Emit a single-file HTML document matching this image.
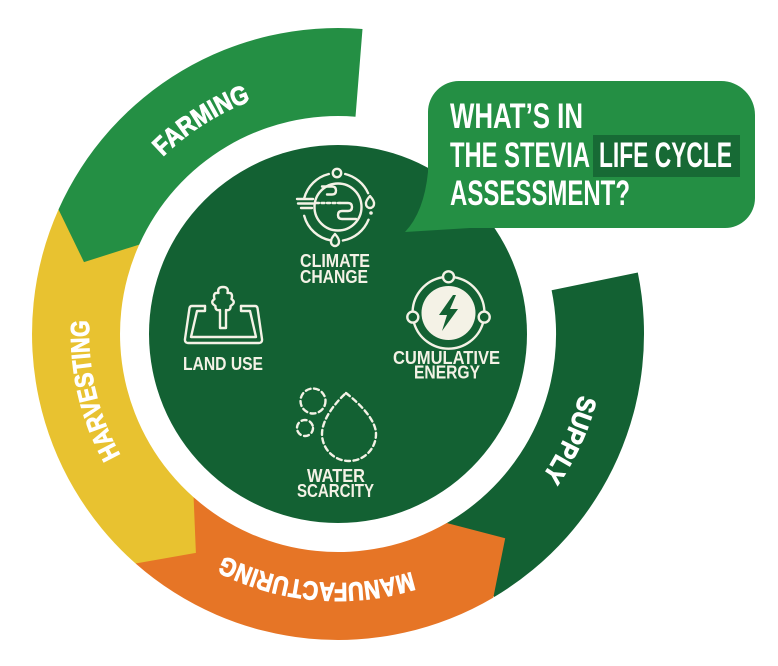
<!DOCTYPE html>
<html>
<head>
<meta charset="utf-8">
<style>
html,body{margin:0;padding:0;background:#ffffff;width:778px;height:666px;overflow:hidden}
svg{display:block}
.lbl{font-family:"Liberation Sans Narrow","Liberation Sans",sans-serif;font-weight:bold;fill:#f4f2e6}
.ring{font-family:"Liberation Sans Narrow","Liberation Sans",sans-serif;font-weight:bold;fill:#ffffff;font-size:26px;stroke:#ffffff;stroke-width:0.9}
.ttl{font-family:"Liberation Sans Narrow","Liberation Sans",sans-serif;font-weight:bold;fill:#ffffff;font-size:35px}
.ic{fill:none;stroke:#f4f2e6;stroke-width:2.4;stroke-linecap:round;stroke-linejoin:round}
</style>
</head>
<body>
<svg width="778" height="666" viewBox="0 0 778 666" xmlns="http://www.w3.org/2000/svg">
  <rect width="778" height="666" fill="#ffffff"/>
  <defs>
    <path id="pFarm" d="M116.9,219.4 A249 249 0 0 1 326.7,85.3"/>
    <path id="pHarv" d="M188.1,532.9 A249 249 0 0 1 116.1,221.0"/>
    <path id="pManu" d="M514.1,510.1 A249 249 0 0 1 134.0,476.8"/>
    <path id="pSupp" d="M577.9,267.5 A249 249 0 0 1 445.2,558.7"/>
  </defs>

  <!-- Ring segments -->
  <path d="M494.2,597.0 A306 306 0 0 0 637.8,272.5 L551.6,290.2 A218 218 0 0 1 446.0,523.5 Z" fill="#136133"/>
  <path d="M135.6,563.5 A306 306 0 0 0 493.3,597.6 L505.2,538.3 L446.7,523.0 A218 218 0 0 1 193.6,497.3 Z" fill="#e67526"/>
  <path d="M58.5,209.5 A306 306 0 0 0 135.6,563.5 L195.9,552.9 L193.6,497.3 A218 218 0 0 1 139.2,244.6 Z" fill="#e8c230"/>
  <path d="M362.5,29.0 A306 306 0 0 0 58.5,209.5 L84.0,262.1 L139.2,244.6 A218 218 0 0 1 355.5,116.7 Z" fill="#248f44"/>

  <!-- Ring labels -->
  <text class="ring"><textPath href="#pFarm" startOffset="50%" text-anchor="middle" textLength="105" lengthAdjust="spacingAndGlyphs">FARMING</textPath></text>
  <text class="ring"><textPath href="#pHarv" startOffset="50%" text-anchor="middle" textLength="140" lengthAdjust="spacingAndGlyphs">HARVESTING</textPath></text>
  <text class="ring"><textPath href="#pManu" startOffset="50%" text-anchor="middle" textLength="193" lengthAdjust="spacingAndGlyphs">MANUFACTURING</textPath></text>
  <text class="ring"><textPath href="#pSupp" startOffset="50%" text-anchor="middle" textLength="90" lengthAdjust="spacingAndGlyphs">SUPPLY</textPath></text>

  <!-- Inner disk -->
  <circle cx="338" cy="334" r="189" fill="#136133"/>

  <!-- Speech bubble -->
  <path d="M428,112 A31 31 0 0 1 459,81 H721 A34 34 0 0 1 755,115 V198 A30 30 0 0 1 725,228 H470 L405,232 Q424,212 428,172 Z" fill="#248f44"/>
  <rect x="593" y="135" width="147" height="42" fill="#176a35"/>
  <text class="ttl" x="450" y="128" textLength="133" lengthAdjust="spacingAndGlyphs">WHAT’S IN</text>
  <text class="ttl" x="450" y="167" textLength="140" lengthAdjust="spacingAndGlyphs">THE STEVIA</text>
  <text class="ttl" x="599" y="167" textLength="133" lengthAdjust="spacingAndGlyphs">LIFE CYCLE</text>
  <text class="ttl" x="450" y="205" textLength="180" lengthAdjust="spacingAndGlyphs">ASSESSMENT?</text>

  <!-- Climate change icon -->
  <g class="ic">
    <path d="M345.2,174 A34 34 0 0 1 368.1,193.2 M368.5,219.7 A34 34 0 0 1 342.9,240.5 M331.1,240.5 A34 34 0 0 1 304.2,215.8 M304.2,198.2 A34 34 0 0 1 328.8,174"/>
    <circle cx="337" cy="173" r="4.2"/>
    <path d="M370,196 Q374.5,201 374,204 A4 4 0 1 1 366,204 Q365.5,201 370,196 Z"/>
    <path d="M335,234 Q339.5,239 339,242 A4 4 0 1 1 331,242 Q330.5,239 335,234 Z"/>
    <path d="M297,199 H313 M298,203.5 H313 M301,208 H312"/>
    <circle cx="338" cy="207" r="23.5"/>
    <path d="M322,186.5 H332 Q336,186.5 336,190.5 Q336,194.5 332,194.5 H327"/>
    <path d="M316,203 H340" stroke-dasharray="3 2.5"/>
    <path d="M340,203 H348 Q352,203 352,207 Q352,211 348,211 H342 Q338,211 338,215 Q338,219 342,219 H356"/>
  </g>
  <circle cx="371" cy="213" r="1.8" fill="#f4f2e6"/>
  <text class="lbl" x="300" y="267" font-size="18.5" textLength="70" lengthAdjust="spacingAndGlyphs">CLIMATE</text>
  <text class="lbl" x="300" y="283" font-size="18.5" textLength="68" lengthAdjust="spacingAndGlyphs">CHANGE</text>

  <!-- Land use icon -->
  <g class="ic" stroke-width="2.1">
    <path d="M205,306 H192 Q190,306 189.5,308 L185,339 Q184.5,343 188.5,343 H258.5 Q262.5,343 262,339 L257.5,308 Q257,306 255,306 H241"/>
    <path d="M205,306 V311 H197 L191,337 H256 L250,311 H241 V306"/>
    <path d="M223,287 Q229,287 227.5,293 Q233.5,292 231.5,299 Q236.5,302.5 230.5,306 Q231,311 226,310 L226,328 H220 L220,310 Q215,311 215.5,306 Q209.5,302.5 214.5,299 Q212.5,292 218.5,293 Q217,287 223,287 Z"/>
  </g>
  <text class="lbl" x="183" y="370" font-size="18.5" textLength="80" lengthAdjust="spacingAndGlyphs">LAND USE</text>

  <!-- Cumulative energy icon -->
  <g class="ic">
    <path d="M454.7,277.3 A36 36 0 0 1 484.4,310.9 M482.9,323.3 A36 36 0 0 1 414.1,323.3 M412.6,310.9 A36 36 0 0 1 442.3,277.3"/>
    <circle cx="448.5" cy="276.8" r="5.5"/>
    <circle cx="412.8" cy="317.1" r="5.5"/>
    <circle cx="484.2" cy="317.1" r="5.5"/>
  </g>
  <circle cx="448.5" cy="313" r="27" fill="#f4f2e6"/>
  <polygon points="453,295 439,315 447,315 442,331 458,309 450,309 456,295" fill="#136133"/>
  <text class="lbl" x="393" y="364" font-size="18.5" textLength="107" lengthAdjust="spacingAndGlyphs">CUMULATIVE</text>
  <text class="lbl" x="414" y="378.5" font-size="18.5" textLength="66" lengthAdjust="spacingAndGlyphs">ENERGY</text>

  <!-- Water scarcity icon -->
  <g class="ic" stroke-width="2.5" stroke-dasharray="5 3.5">
    <circle cx="313" cy="401" r="12.5"/>
    <circle cx="305" cy="428" r="8"/>
    <path d="M346,393 C360,404 376,420 376,434 A27 27 0 0 1 322,434 C322,420 334,404 346,393 Z"/>
  </g>
  <text class="lbl" x="307" y="482" font-size="18.5" textLength="58" lengthAdjust="spacingAndGlyphs">WATER</text>
  <text class="lbl" x="297" y="497" font-size="18.5" textLength="77" lengthAdjust="spacingAndGlyphs">SCARCITY</text>
</svg>
</body>
</html>
